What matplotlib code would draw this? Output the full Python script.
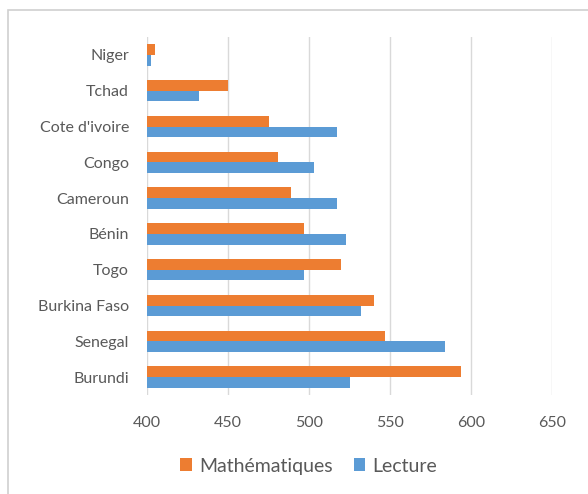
import matplotlib
matplotlib.use("Agg")
import matplotlib.pyplot as plt
import numpy as np
from matplotlib.patches import Rectangle

countries = ["Burundi", "Senegal", "Burkina Faso", "Togo", "Bénin",
             "Cameroun", "Congo", "Cote d'ivoire", "Tchad", "Niger"]
maths = [594, 547, 540, 520, 497, 489, 481, 475.5, 450, 405]
lecture = [525.5, 584, 532, 497, 523, 517.5, 503, 517, 432, 402.5]
xticks = [400, 450, 500, 550, 600, 650]

orange = "#ED7D31"
blue = "#5B9BD5"
grid = "#D9D9D9"
txt = "#595959"

plt.rcParams['font.family'] = ['Lato', 'DejaVu Sans']

fig = plt.figure(figsize=(5.88, 4.94), dpi=100)
W, H = 588, 494
# outer chart border
fig.patches.append(Rectangle((8 / W, -0.1), 1.2, (H - 10) / H + 0.1, transform=fig.transFigure,
                             fill=False, edgecolor="#D0D0D0", linewidth=1.2))

ax = fig.add_axes([147 / W, 1 - 395 / H, (552 - 147) / W, (395 - 37) / H])
y = np.arange(len(countries))
h = 0.3
ax.barh(y + h / 2, maths, height=h, color=orange, label="Mathématiques", zorder=3)
ax.barh(y - h / 2, lecture, height=h, color=blue, label="Lecture", zorder=3)

ax.set_xlim(400, 650)
ax.set_ylim(-0.5, len(countries) - 0.5)
ax.set_xticks(xticks)
ax.set_xticklabels([str(v) for v in xticks])
ax.set_yticks(y)
ax.set_yticklabels(countries)
ax.tick_params(axis='both', length=0, colors=txt, labelsize=11.5)
ax.tick_params(axis='x', pad=15)
ax.tick_params(axis='y', pad=13)
for s in ax.spines.values():
    s.set_visible(False)
ax.grid(axis='x', color=grid, linewidth=1, zorder=0)
ax.set_axisbelow(True)

leg = fig.legend(loc='center', bbox_to_anchor=(0.525, 1 - 466 / H), ncol=2, frameon=False,
                 fontsize=14, handlelength=0.6, handleheight=0.6, columnspacing=1.1,
                 handletextpad=0.35, labelcolor=txt)

fig.savefig("out.png", dpi=100)
